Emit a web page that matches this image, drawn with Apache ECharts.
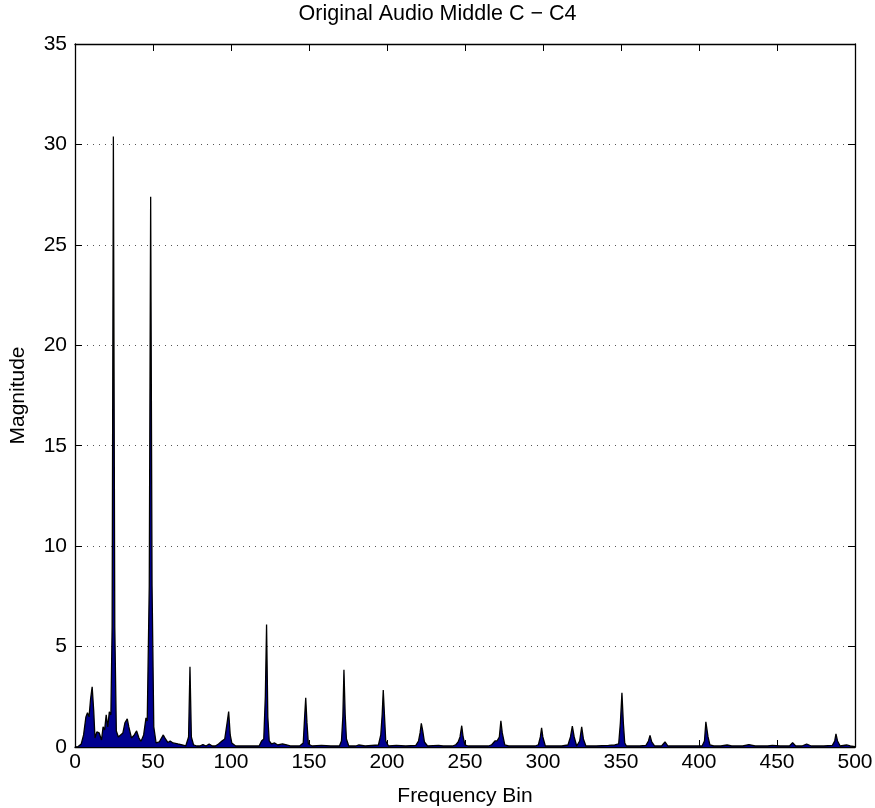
<!DOCTYPE html>
<html>
<head>
<meta charset="utf-8">
<script src="https://cdn.jsdelivr.net/npm/echarts@6/dist/echarts.min.js"></script>
<style>
  html, body { margin: 0; padding: 0; background: #fff; }
  #main { width: 875px; height: 808px; }
</style>
</head>
<body>
<div id="main"></div>
<script>
// frequency bins and magnitudes
var bins = [
  0, 2, 4, 5.5, 7, 8, 9, 10, 11, 12, 12.8, 14, 15.5, 17, 18, 19, 20, 21, 22, 23,
  23.8, 24.6, 25.5, 26.5, 27.8, 29, 30.7, 32, 33.5, 34.5, 36.2, 38, 39.5, 41, 42.3, 44, 45.5, 46.3,
  47.6, 48.5, 49.4, 50.5, 52, 54, 56.6, 58, 59.6, 61, 62.8, 64, 66, 68, 71,
  72.8, 73.7, 74.6, 76, 78, 80, 82, 84, 86, 88, 90, 92, 94.2, 96, 97.5, 98.5, 99.5, 100.5, 101.5, 103,
  107, 112, 118, 119.6, 121, 122, 122.8, 123.6, 124.5, 126, 128, 130, 133, 135, 138,
  144, 146.3, 147.2, 147.9, 148.7, 149.6, 152, 158, 164, 169.5, 170.8, 171.7, 172.4, 173.2, 174, 175.5,
  180, 182, 186, 194.5, 196, 196.9, 197.6, 198.3, 199.2, 201, 206, 212, 218.5, 220.2, 221.2, 222, 222.9, 224, 226,
  233, 236, 242, 244, 245.6, 246.8, 247.9, 248.8, 250, 252, 258, 265, 267, 269.2, 270.5, 272, 273, 273.9, 275.5, 278,
  286, 295, 297, 298.3, 299.1, 299.9, 301.5, 306, 312, 316, 317.6, 318.8, 320, 321.6, 323.5, 324.8, 325.9, 327.5,
  334, 342, 346, 348.5, 349.6, 350.6, 351.5, 352.4, 353.5, 356, 362, 366, 367.6, 368.6, 369.7, 371.5,
  376, 378.2, 380, 386, 396, 402, 403.5, 404.4, 405, 405.8, 407, 409.5, 414, 418, 421, 428,
  432, 436, 444, 447, 452, 458, 460, 462, 466, 469, 472, 480, 485.5, 487, 487.8, 488.8, 490.5,
  494.6, 497, 500
];
var magnitude = [
  0, 0.02, 0.15, 0.6, 1.5, 1.7, 1.5, 2.4, 3.0, 1.8, 0.45, 0.75, 0.7, 0.35, 1.0, 0.85, 1.6, 1.0, 1.75, 1.6,
  6, 30.4, 6, 0.8, 0.5, 0.55, 0.7, 1.2, 1.4, 1.0, 0.45, 0.6, 0.8, 0.45, 0.28, 0.6, 1.45, 1.3,
  8, 27.4, 8, 1.0, 0.2, 0.25, 0.6, 0.4, 0.22, 0.3, 0.2, 0.25, 0.15, 0.12, 0.05,
  0.5, 4.0, 0.5, 0.1, 0.05, 0.05, 0.12, 0.05, 0.15, 0.05, 0.05, 0.15, 0.3, 0.4, 1.2, 1.76, 0.6, 0.2, 0.25, 0.05,
  0.05, 0.05, 0.05, 0.3, 0.4, 2.5, 6.1, 1.5, 0.3, 0.15, 0.2, 0.1, 0.15, 0.12, 0.05,
  0.05, 0.2, 1.5, 2.45, 1.2, 0.15, 0.05, 0.08, 0.05, 0.05, 0.3, 1.5, 3.85, 1.6, 0.4, 0.05,
  0.05, 0.1, 0.05, 0.1, 0.6, 1.6, 2.84, 1.7, 0.3, 0.05, 0.08, 0.05, 0.08, 0.3, 0.7, 1.18, 0.8, 0.25, 0.05,
  0.08, 0.05, 0.05, 0.1, 0.25, 0.5, 1.06, 0.5, 0.1, 0.05, 0.05, 0.05, 0.1, 0.3, 0.3, 0.5, 1.3, 0.7, 0.1, 0.05,
  0.05, 0.05, 0.1, 0.5, 0.96, 0.5, 0.05, 0.05, 0.05, 0.1, 0.5, 1.04, 0.5, 0.05, 0.3, 1.0, 0.4, 0.05,
  0.05, 0.08, 0.1, 0.15, 1.2, 2.7, 1.2, 0.2, 0.05, 0.05, 0.05, 0.08, 0.3, 0.58, 0.25, 0.05,
  0.05, 0.25, 0.05, 0.05, 0.05, 0.05, 0.3, 1.25, 1.2, 0.5, 0.1, 0.05, 0.05, 0.1, 0.05, 0.05,
  0.12, 0.05, 0.05, 0.08, 0.05, 0.05, 0.22, 0.05, 0.05, 0.15, 0.05, 0.05, 0.08, 0.3, 0.65, 0.3, 0.05,
  0.1, 0.05, 0.02
];
var xTicks = [0, 50, 100, 150, 200, 250, 300, 350, 400, 450, 500];
var yTicks = [0, 5, 10, 15, 20, 25, 30, 35];

var pts = bins.map(function (b, i) { return [b, magnitude[i]]; });

var chart = echarts.init(document.getElementById('main'));
var font = 'Liberation Sans, Arial, sans-serif';
var tick = { show: true, inside: true, length: 7, lineStyle: { color: '#000', width: 1 } };
var line = { show: true, onZero: false, lineStyle: { color: '#000', width: 1.3 } };

chart.setOption({
  animation: false,
  backgroundColor: '#fff',
  title: {
    text: 'Original Audio Middle C \u2212 C4',
    left: 'center', top: -2,
    textStyle: { fontFamily: font, fontSize: 21.5, fontWeight: 'normal', color: '#000' }
  },
  grid: { left: 75, right: 20, top: 44, bottom: 61, containLabel: false, outerBoundsMode: 'none' },
  xAxis: [{
    type: 'value', min: xTicks[0], max: xTicks[xTicks.length - 1], interval: 50,
    name: 'Frequency Bin', nameLocation: 'middle', nameGap: 39,
    nameTextStyle: { fontFamily: font, fontSize: 21, color: '#000' },
    axisLine: line, axisTick: tick,
    axisLabel: { fontFamily: font, fontSize: 21, color: '#000', margin: 5 },
    splitLine: { show: false }
  }, {
    type: 'value', position: 'top', min: 0, max: 500, interval: 50,
    axisLine: line, axisTick: tick, axisLabel: { show: false }, splitLine: { show: false }
  }],
  yAxis: [{
    type: 'value', min: yTicks[0], max: yTicks[yTicks.length - 1], interval: 5,
    name: 'Magnitude', nameLocation: 'middle', nameGap: 46,
    nameTextStyle: { fontFamily: font, fontSize: 21, color: '#000' },
    axisLine: line, axisTick: tick,
    axisLabel: { fontFamily: font, fontSize: 21, color: '#000', margin: 8 },
    splitLine: { show: true, lineStyle: { color: '#555', type: [1, 5], width: 1 } }
  }, {
    type: 'value', position: 'right', min: 0, max: 35, interval: 5,
    axisLine: line, axisTick: tick, axisLabel: { show: false }, splitLine: { show: false }
  }],
  series: [{
    type: 'line',
    data: pts,
    symbol: 'none',
    lineStyle: { color: '#000', width: 1.3 },
    areaStyle: { color: '#00008f', opacity: 1 },
    z: 1
  }]
});
</script>
</body>
</html>
